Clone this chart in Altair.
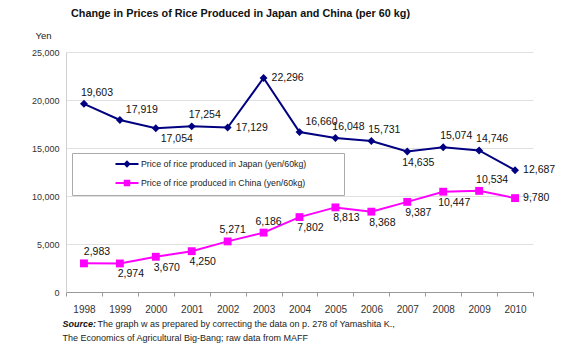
import altair as alt
import pandas as pd

# ---------------- data ----------------
years = [1998, 1999, 2000, 2001, 2002, 2003, 2004, 2005, 2006, 2007, 2008, 2009, 2010]
japan = [19603, 17919, 17054, 17254, 17129, 22296, 16660, 16048, 15731, 14635, 15074, 14746, 12687]
china = [2983, 2974, 3670, 4250, 5271, 6186, 7802, 8813, 8368, 9387, 10447, 10534, 9780]
japan_label_pos = ["A", "AR", "BR", "A", "R", "R", "AR", "A", "A", "B", "A", "A", "R"]
china_label_pos = ["A", "B", "B", "B", "Ac", "Ac", "B", "B", "B", "B", "B", "A", "R"]
series_names = [
    "Price of rice produced in Japan (yen/60kg)",
    "Price of rice produced in China (yen/60kg)",
]
series_colors = ["#000080", "#FF00FF"]
marker_shapes = ["diamond", "square"]
y_ticks = [0, 5000, 10000, 15000, 20000, 25000]

title_text = "Change in Prices of Rice Produced in Japan and China (per 60 kg)"
source_head = "Source:"
source_line1 = "The graph w as prepared by correcting the data on p. 278 of Yamashita K.,"
source_line2 = "The Economics of Agricultural Big-Bang; raw  data from MAFF"

FONT = "Liberation Sans"

rows = []
for name, col, vals, poss in [(series_names[0], series_colors[0], japan, japan_label_pos),
                              (series_names[1], series_colors[1], china, china_label_pos)]:
    for yr, v, p in zip(years, vals, poss):
        rows.append({"year": yr, "value": v, "series": name, "hex": col, "pos": p})
df = pd.DataFrame(rows)

x_scale = alt.Scale(domain=[years[0] - 0.5, years[-1] + 0.5], nice=False, zero=False)
y_scale = alt.Scale(domain=[0, 25000], nice=False)

base = alt.Chart(df)

# line layer: carries label axis (x) and gridded axis (y)
lines = base.mark_line(strokeWidth=2).encode(
    x=alt.X("year:Q", scale=x_scale,
            axis=alt.Axis(values=years, format="d", ticks=False, tickSize=0,
                          labelFontSize=10, labelFont=FONT, labelColor="#333",
                          labelPadding=12, grid=False, domainColor="#999",
                          title=source_head, titleFont=FONT, titleFontSize=9,
                          titleFontWeight="bold", titleFontStyle="italic",
                          titleColor="#111", titleX=-4, titleY=31,
                          titleAlign="left", titleBaseline="middle",
                          orient="bottom")),
    y=alt.Y("value:Q", scale=y_scale,
            axis=alt.Axis(values=y_ticks, format=",d", ticks=False, tickSize=0,
                          labelFontSize=9, labelFont=FONT, labelColor="#333",
                          labelPadding=7, grid=True, gridColor="#e0e0e0",
                          domainColor="#d0d0d0",
                          title="Yen", titleFont=FONT, titleFontSize=9.5,
                          titleFontWeight="normal", titleColor="#222",
                          titleAngle=0, titleX=-23, titleY=-17,
                          titleAlign="center", titleBaseline="middle",
                          orient="left")),
    color=alt.Color("hex:N", scale=None),
    detail="series:N",
)

# point layers: the first carries boundary-tick axis (x) and source text axis (y)
boundaries = [y - 0.5 for y in years] + [years[-1] + 0.5]
point_layers = []
for i, (name, shp) in enumerate(zip(series_names, marker_shapes)):
    if i == 0:
        xenc = alt.X("year:Q", scale=x_scale,
                     axis=alt.Axis(values=boundaries, labels=False, domain=False,
                                   grid=False, ticks=True, tickSize=4, tickColor="#999",
                                   title=source_line1, titleFont=FONT, titleFontSize=9,
                                   titleFontWeight="normal", titleColor="#222",
                                   titleX=31, titleY=31, titleAlign="left",
                                   titleBaseline="middle", orient="bottom"))
        yenc = alt.Y("value:Q", scale=y_scale,
                     axis=alt.Axis(labels=False, domain=False, grid=False, ticks=False,
                                   title=source_line2, titleFont=FONT, titleFontSize=9,
                                   titleFontWeight="normal", titleColor="#222",
                                   titleAngle=0, titleX=-4, titleY=285,
                                   titleAlign="left", titleBaseline="middle",
                                   orient="left"))
    else:
        xenc = alt.X("year:Q", scale=x_scale, axis=None)
        yenc = alt.Y("value:Q", scale=y_scale, axis=None)
    point_layers.append(
        base.mark_point(filled=True, size=62, opacity=1, shape=shp)
        .encode(x=xenc, y=yenc, color=alt.Color("hex:N", scale=None))
        .transform_filter(alt.datum.series == name)
    )

# value labels
label_styles = {
    "A": dict(dx=13, dy=-11, align="center"),
    "AR": dict(dx=22, dy=-10, align="center"),
    "Ac": dict(dx=5, dy=-11, align="center"),
    "B": dict(dx=11, dy=11, align="center"),
    "BR": dict(dx=21, dy=11, align="center"),
    "R": dict(dx=8, dy=0, align="left"),
}
text_layers = []
for code, st in label_styles.items():
    text_layers.append(
        base.mark_text(baseline="middle", fontSize=10.5, font=FONT, color="#111", **st)
        .encode(
            x=alt.X("year:Q", scale=x_scale, axis=None),
            y=alt.Y("value:Q", scale=y_scale, axis=None),
            text=alt.Text("value:Q", format=","),
        )
        .transform_filter(alt.datum.pos == code)
    )

# legend layer: invisible marks (size 0), only provides the legend
legend_paths = [
    "M-2.3,0H2.3M0,-0.45L0.45,0L0,0.45L-0.45,0Z",
    "M-2.3,0H2.3M-0.45,-0.45H0.45V0.45H-0.45Z",
]
leg = alt.Legend(
    orient="none", legendX=6, legendY=101,
    title=".", titleColor="white", titleOrient="right", titlePadding=30,
    titleFontSize=8.8, titleFont=FONT,
    strokeColor="#aaa", fillColor="white", padding=5, rowPadding=5,
    symbolSize=100, symbolStrokeWidth=2, symbolOffset=44, labelOffset=8,
    labelFontSize=8.8, labelFont=FONT, labelColor="#222", symbolOpacity=1,
    labelLimit=400, direction="vertical",
)
legend_layer = base.mark_point(filled=True, opacity=1, size=0).encode(
    fill=alt.Fill("series:N", scale=alt.Scale(domain=series_names, range=series_colors), legend=leg),
    stroke=alt.Stroke("series:N", scale=alt.Scale(domain=series_names, range=series_colors), legend=leg),
    shape=alt.Shape("series:N", scale=alt.Scale(domain=series_names, range=legend_paths), legend=leg),
)

chart = alt.layer(lines, *point_layers, *text_layers, legend_layer).resolve_axis(
    x="independent", y="independent"
).properties(
    width=467, height=240,
    padding={"left": 66, "top": 52, "right": 54, "bottom": 60},
    autosize=alt.AutoSizeParams(type="none"),
    title=alt.TitleParams(title_text, font=FONT, fontSize=10.8, fontWeight="bold",
                          color="#111", anchor="start", frame="group", dx=5,
                          offset=11),
    background="white",
).configure_view(stroke=None)

chart.save("out.html", embed_options={"renderer": "svg", "actions": False})
